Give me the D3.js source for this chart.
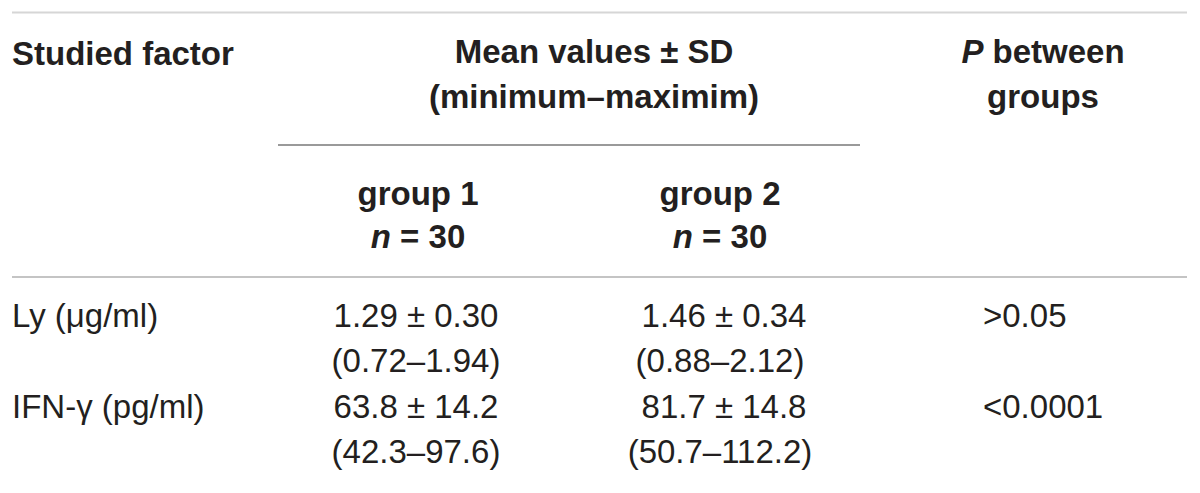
<!DOCTYPE html>
<html>
<head>
<meta charset="utf-8">
<script src="https://cdn.jsdelivr.net/npm/d3@7"></script>
<style>
  body { margin: 0; background: #fff; }
  svg text { font-family: "Liberation Sans", Arial, Helvetica, sans-serif; fill: #231f20; }
</style>
</head>
<body>
<div id="chart-area"></div>
<script>
// table data
var factors = ["Ly (μg/ml)", "IFN-γ (pg/ml)"];
var group1Mean = ["1.29", "63.8"];
var group1SD = ["0.30", "14.2"];
var group1Range = ["0.72–1.94", "42.3–97.6"];
var group2Mean = ["1.46", "81.7"];
var group2SD = ["0.34", "14.8"];
var group2Range = ["0.88–2.12", "50.7–112.2"];
var pValues = [">0.05", "<0.0001"];
var groupNames = ["group 1", "group 2"];
var groupN = [30, 30];

var width = 1200, height = 493;

var svg = d3.select("#chart-area").append("svg")
  .attr("width", width)
  .attr("height", height);

// column positions
var columns = ["factor", "group 1", "group 2", "p"];
var x = d3.scaleOrdinal()
  .domain(columns)
  .range([12, 418, 720, 983]);

// row positions (body)
var y = d3.scaleBand()
  .domain(factors)
  .range([282, 464])
  .paddingInner(0);

var fs = 33, lineGap = 45;

// rules
svg.append("line")
  .attr("x1", 12).attr("x2", 1187)
  .attr("y1", 12.5).attr("y2", 12.5)
  .style("stroke", "#d6d6d6").style("stroke-width", 2);

svg.append("line")
  .attr("x1", 278).attr("x2", 860)
  .attr("y1", 145).attr("y2", 145)
  .style("stroke", "#9a9a9a").style("stroke-width", 2);

svg.append("line")
  .attr("x1", 12).attr("x2", 1187)
  .attr("y1", 277).attr("y2", 277)
  .style("stroke", "#c4c4c4").style("stroke-width", 2);

// header
var head = svg.append("g")
  .style("font-weight", "bold")
  .style("font-size", fs + "px");

head.append("text")
  .attr("x", x("factor")).attr("y", 65)
  .text("Studied factor");

head.append("text")
  .attr("x", 594).attr("y", 63)
  .attr("text-anchor", "middle")
  .text("Mean values ± SD");

head.append("text")
  .attr("x", 594).attr("y", 63 + lineGap)
  .attr("text-anchor", "middle")
  .text("(minimum–maximim)");

var pHead = head.append("text")
  .attr("x", 1043).attr("y", 63)
  .attr("text-anchor", "middle");
pHead.append("tspan").style("font-style", "italic").text("P");
pHead.append("tspan").text(" between");

head.append("text")
  .attr("x", 1043).attr("y", 63 + lineGap)
  .attr("text-anchor", "middle")
  .text("groups");

groupNames.forEach((g, i) => {
  head.append("text")
    .attr("x", x(g)).attr("y", 205)
    .attr("text-anchor", "middle")
    .text(g);
  var t = head.append("text")
    .attr("x", x(g)).attr("y", 205 + 43)
    .attr("text-anchor", "middle");
  t.append("tspan").style("font-style", "italic").text("n");
  t.append("tspan").text(" = " + groupN[i]);
});

// body
var body = svg.append("g")
  .style("font-size", fs + "px");

var rows = body.selectAll("g.row")
  .data(factors)
  .enter()
  .append("g")
  .attr("class", "row")
  .attr("transform", (d) => "translate(0," + (y(d) + lineGap) + ")");

rows.append("text")
  .attr("x", x("factor"))
  .text((d) => d);

rows.append("text")
  .attr("x", x("group 1") - 2)
  .attr("text-anchor", "middle")
  .text((d, i) => group1Mean[i] + " ± " + group1SD[i]);

rows.append("text")
  .attr("x", x("group 1") - 2).attr("y", lineGap)
  .attr("text-anchor", "middle")
  .text((d, i) => "(" + group1Range[i] + ")");

rows.append("text")
  .attr("x", x("group 2") + 4)
  .attr("text-anchor", "middle")
  .text((d, i) => group2Mean[i] + " ± " + group2SD[i]);

rows.append("text")
  .attr("x", x("group 2")).attr("y", lineGap)
  .attr("text-anchor", "middle")
  .text((d, i) => "(" + group2Range[i] + ")");

rows.append("text")
  .attr("x", x("p"))
  .text((d, i) => pValues[i]);
</script>
</body>
</html>
